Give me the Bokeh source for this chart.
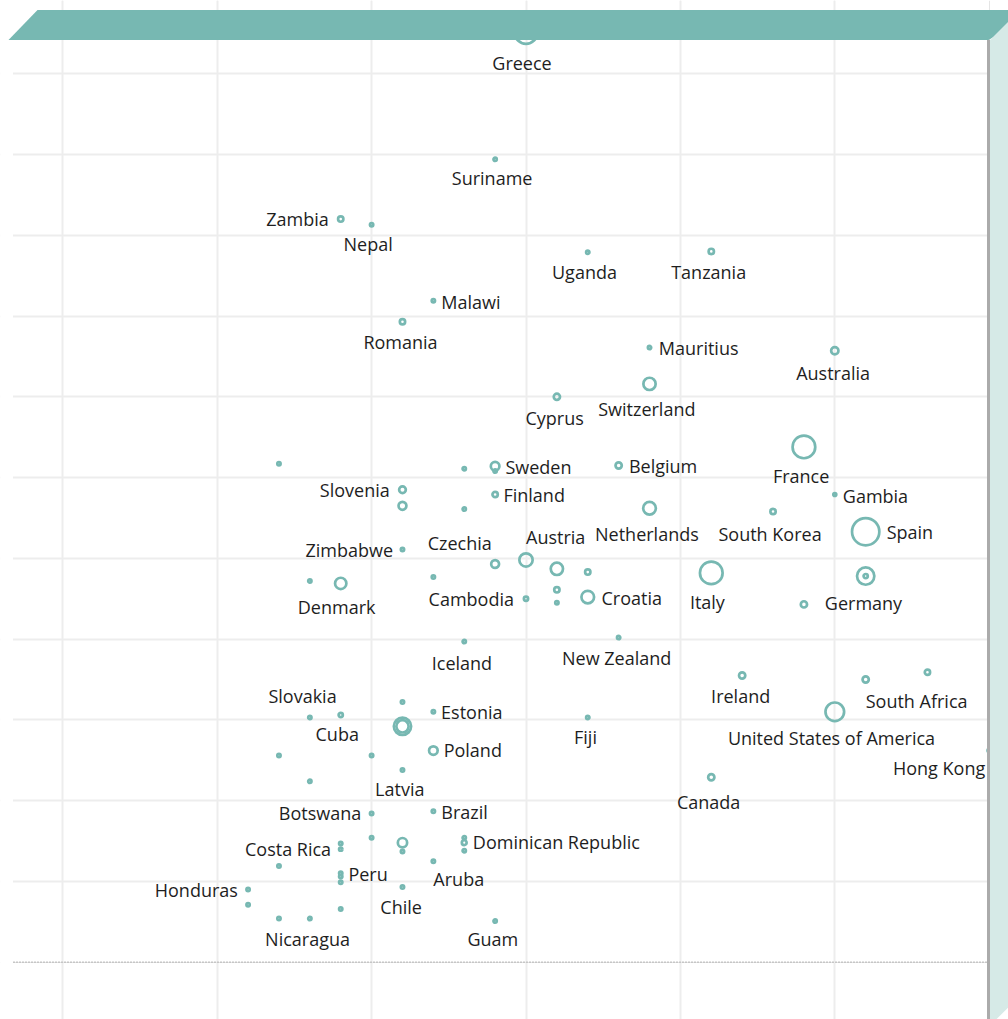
import numpy as np
from bokeh.plotting import figure
from bokeh.models import Range1d, Grid, FixedTicker
from bokeh.core.properties import value
from bokeh.embed import file_html
from bokeh.resources import INLINE

# ---------------- data ----------------
names = ["Greece", "Suriname", "Zambia", "Nepal", "Uganda", "Tanzania", "Malawi", "Romania",
         "Mauritius", "Australia", "Switzerland", "Cyprus", "", "", "Sweden", "", "Belgium",
         "France", "Slovenia", "", "Finland", "", "Netherlands", "South Korea", "Gambia", "Spain",
         "Zimbabwe", "Czechia", "Austria", "", "", "", "", "Croatia", "Cambodia", "", "Denmark",
         "", "Italy", "Germany", "", "", "New Zealand", "Iceland", "Ireland", "South Africa", "",
         "United States of America", "Hong Kong", "Canada", "Fiji", "", "Estonia", "Slovakia",
         "Cuba", "", "", "", "", "Poland", "Latvia", "", "Botswana", "Brazil", "", "", "Costa Rica",
         "", "", "", "Dominican Republic", "", "", "Aruba", "Peru", "", "", "Chile", "Honduras",
         "", "", "", "Nicaragua", "Guam"]
x_vals = [15, 14, 9, 10, 17, 21, 12, 11,
          19, 25, 19, 16, 7, 13, 14, 14, 18,
          24, 11, 11, 14, 13, 19, 23, 25, 26,
          11, 14, 15, 16, 17, 16, 16, 17, 15, 12, 9,
          8, 21, 26, 26, 24, 18, 13, 22, 26, 28,
          25, 30, 21, 17, 11, 12, 8,
          9, 11, 11, 7, 10, 12, 11, 8, 10, 12, 10, 9, 9,
          11, 11, 13, 13, 13, 7, 12, 9, 9, 9, 11, 6,
          6, 9, 7, 8, 14]
y_vals = [115.1, 99.4, 92.0, 91.3, 87.9, 88.0, 81.9, 79.3,
          76.1, 75.7, 71.6, 70.0, 61.7, 61.1, 61.4, 60.8, 61.5,
          63.8, 58.5, 56.5, 57.9, 56.1, 56.2, 55.8, 57.9, 53.3,
          51.1, 49.3, 49.8, 48.7, 48.3, 46.1, 44.5, 45.2, 45.0, 47.7, 46.9,
          47.2, 48.2, 47.8, 47.8, 44.3, 40.2, 39.7, 35.5, 35.0, 35.9,
          31.0, 26.2, 22.9, 30.3, 32.2, 31.0, 30.3,
          30.6, 29.2, 29.2, 25.6, 25.6, 26.2, 23.8, 22.4, 18.4, 18.7, 15.4, 14.7, 14.0,
          14.8, 13.7, 15.4, 14.8, 13.8, 11.9, 12.5, 11.0, 10.6, 9.9, 9.3, 9.0,
          7.1, 6.6, 5.4, 5.4, 5.1]
weights = [161, 9, 16, 9, 9, 16, 9, 16,
           9, 25, 56, 20, 9, 9, 32, 9, 20,
           161, 22, 28, 16, 9, 59, 16, 8, 225,
           9, 28, 64, 56, 16, 16, 9, 59, 12, 9, 49,
           9, 161, 100, 12, 20, 9, 9, 20, 20, 16,
           114, 9, 20, 9, 9, 9, 9,
           12, 100, 56, 9, 9, 32, 9, 9, 9, 9, 9, 9, 9,
           36, 9, 9, 14, 9, 9, 9, 9, 9, 9, 9, 9,
           9, 9, 9, 9, 9]
x_ticks = [0, 5, 10, 15, 20, 25]
y_ticks = [10, 20, 30, 40, 50, 60, 70, 80, 90, 100, 110]

# ---------------- label layout (align, dx px, dy px downward) ----------------
label_layout = {
    "Greece": ("center", -4, 31), "Suriname": ("center", -3, 20), "Zambia": ("right", -12, 1),
    "Nepal": ("center", -3.5, 20.7), "Uganda": ("center", -3.3, 20.6), "Tanzania": ("center", -2.6, 21.6),
    "Malawi": ("left", 8, 2), "Romania": ("center", -2, 21.7), "Mauritius": ("left", 9.3, 1.7),
    "Australia": ("center", -1.7, 23.3), "Switzerland": ("center", -2.7, 26), "Cyprus": ("center", -2.3, 22.3),
    "Sweden": ("left", 10.3, 1.6), "Belgium": ("left", 10.3, 2), "France": ("center", -2.8, 30.6),
    "Slovenia": ("right", -12.7, 1.7), "Finland": ("left", 8.3, 1.7), "Netherlands": ("center", -2.6, 26.3),
    "South Korea": ("center", -3, 23.3), "Gambia": ("left", 8, 2), "Spain": ("left", 21, 1.3),
    "Zimbabwe": ("right", -9.4, 1.7), "Czechia": ("right", -3.4, -20.4), "Austria": ("left", 0, -22),
    "Cambodia": ("right", -12, 1.7), "Croatia": ("left", 13.7, 1.6), "Denmark": ("center", -4.1, 24.4),
    "Italy": ("center", -3.9, 30.6), "Germany": ("center", -2.2, 28), "New Zealand": ("center", -2, 21.3),
    "Iceland": ("center", -2.3, 22), "Ireland": ("center", -1.5, 21.7), "South Africa": ("left", 0, 22.3),
    "United States of America": ("center", -3.3, 27.3), "Hong Kong": ("right", -4, 18.3),
    "Canada": ("center", -2.7, 25.6), "Fiji": ("center", -2.3, 21), "Estonia": ("left", 7.7, 1),
    "Slovakia": ("center", -7.3, -20.7), "Cuba": ("center", -3.5, 20.3), "Poland": ("left", 10.3, 0.7),
    "Latvia": ("center", -2.7, 20), "Botswana": ("right", -10.3, 0.7), "Brazil": ("left", 8, 2),
    "Costa Rica": ("right", -9.6, 1), "Dominican Republic": ("left", 8.6, 0), "Aruba": ("left", 0, 19),
    "Peru": ("left", 7.7, 1.6), "Chile": ("center", -1.4, 20.6), "Honduras": ("right", -10.2, 1.7),
    "Nicaragua": ("center", -2.3, 21.7), "Guam": ("center", -2.3, 19.3),
}
TEXT_DY = -1.0  # global vertical nudge for labels (px, downward positive)

# ---------------- styling ----------------
TEAL = "#77b8b2"
LIGHT = "#d6eae7"
EDGE = "#ababab"
GRID = "#ededed"
TEXT = "#1e1e1e"
LW = 2.7
FONT = value("Open Sans")
FSIZE = "18px"

W, H = 1008, 1019
SX = 30.88      # px per x unit
SY = 8.077      # px per y unit
X0 = -62.3 / SX
X1 = X0 + W / SX
Y1 = 961.7 / SY
Y0 = Y1 - H / SY


def px_x(px):
    return X0 + px / SX


def px_y(py):
    return Y1 - py / SY


p = figure(width=W, height=H, x_range=Range1d(X0, X1), y_range=Range1d(Y0, Y1),
           output_backend="svg", toolbar_location=None,
           x_axis_location=None, y_axis_location=None, min_border=0,
           outline_line_color=None, background_fill_color="white", border_fill_color="white")

p.add_layout(Grid(dimension=0, ticker=FixedTicker(ticks=x_ticks), grid_line_color=GRID, grid_line_width=2))
p.add_layout(Grid(dimension=1, ticker=FixedTicker(ticks=y_ticks), grid_line_color=GRID, grid_line_width=2))

# white left margin (front face starts a little right of the banner corner)
p.quad(left=[px_x(-5)], right=[px_x(12.5)], top=[px_y(40)], bottom=[px_y(1030)],
       fill_color="white", line_color=None)

# dashed baseline
p.segment(x0=[px_x(12.5)], y0=[0], x1=[30], y1=[0], line_color="#c6c6c6", line_width=1.5, line_dash="2 1")

# points
r_out = np.sqrt(np.array(weights, dtype=float))
sizes = 2 * (r_out - LW / 2)
p.scatter(x=x_vals, y=y_vals, size=sizes, marker="circle", fill_alpha=0,
          line_color=TEAL, line_width=LW)

# labels
groups = {"left": ([], [], []), "right": ([], [], []), "center": ([], [], [])}
for n, xv, yv in zip(names, x_vals, y_vals):
    if not n:
        continue
    al, dxp, dyp = label_layout[n]
    g = groups[al]
    g[0].append(xv + dxp / SX)
    g[1].append(yv - (dyp + TEXT_DY) / SY)
    g[2].append(n)
for al, (lx, ly, lt) in groups.items():
    p.text(x=lx, y=ly, text=lt, text_align=al, text_baseline="middle",
           text_font=FONT, text_font_size=FSIZE, text_color=TEXT)

# 3D frame decorations
p.patch([px_x(8), px_x(37), px_x(1040), px_x(988)], [px_y(39.5), px_y(9.5), px_y(9.5), px_y(39.5)],
        fill_color=TEAL, line_color=None)
p.patch([px_x(989.5), px_x(1020), px_x(1020), px_x(989.5)],
        [px_y(39.5), px_y(9), px_y(995), px_y(1025)], fill_color=LIGHT, line_color=None)
p.quad(left=[px_x(986.5)], right=[px_x(989.5)], top=[px_y(39.5)], bottom=[px_y(1030)],
       fill_color=EDGE, line_color=None)

open("out.html", "w").write(file_html(p, INLINE))
